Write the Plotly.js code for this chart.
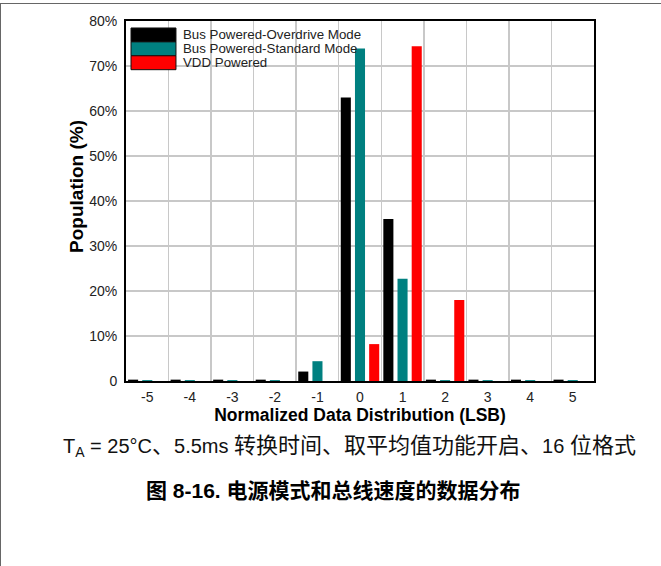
<!DOCTYPE html>
<html>
<head>
<meta charset="utf-8">
<script src="https://cdn.plot.ly/plotly-3.0.1.min.js"></script>
<style>
  html, body { margin: 0; padding: 0; background: #fff; }
  #wrap { position: relative; width: 661px; height: 566px; }
  #chart { width: 661px; height: 566px; }
  #frame {
    position: absolute; left: 0; top: 3px; width: 661px; height: 563px;
    border-top: 1px solid #666; border-left: 1px solid #666;
    box-sizing: border-box; pointer-events: none;
  }
</style>
</head>
<body>
<div id="wrap">
  <div id="chart"></div>
  <div id="frame"></div>
</div>
<script>
// Output code bins (LSB) and population share (%) for each power mode
const codes = [-5, -4, -3, -2, -1, 0, 1, 2, 3, 4, 5];
const overdrive = [0.3, 0.3, 0.3, 0.3, 2.1, 63.0, 36.0, 0.3, 0.3, 0.3, 0.3];
const standard  = [0.2, 0.2, 0.2, 0.2, 4.4, 73.9, 22.7, 0.2, 0.2, 0.2, 0.2];
const vddPowered = [0, 0, 0, 0, 0, 8.2, 74.4, 18.0, 0, 0, 0];

const seriesNames = ['Bus Powered-Overdrive Mode', 'Bus Powered-Standard Mode', 'VDD Powered'];
const seriesColors = ['#000000', '#008080', '#ff0000'];
const seriesValues = [overdrive, standard, vddPowered];

const yTickVals = [0, 10, 20, 30, 40, 50, 60, 70, 80];
const yTickText = ['0', '10%', '20%', '30%', '40%', '50%', '60%', '70%', '80%'];

const xTitle = 'Normalized Data Distribution (LSB)';
const yTitle = 'Population (%)';
const caption = 'T<sub>A</sub> = 25°C<span style="font-size:22px">、</span>5.5ms ' +
  '<span style="font-size:22px">转换时间、取平均值功能开启、</span>16 ' +
  '<span style="font-size:22px">位格式</span>';
const figTitle = '<b>图 8-16. 电源模式和总线速度的数据分布</b>';

const FONT = '"Liberation Sans", Arial, "Noto Sans CJK SC", sans-serif';

const traces = seriesNames.map((name, i) => ({
  type: 'bar',
  name: name,
  x: codes,
  y: seriesValues[i],
  marker: { color: seriesColors[i], line: { width: 0 } },
  showlegend: false,
  hoverinfo: 'x+y+name'
}));

// Boxed legend: wide swatches stacked in the upper-left corner of the plot
const legX0 = 0.0107, legX1 = 0.1068, legTop = 0.9806, legRow = 0.0386;
const shapes = [];
const annotations = [];
seriesNames.forEach((name, i) => {
  const top = legTop - i * legRow;
  shapes.push({
    type: 'rect', xref: 'paper', yref: 'paper',
    x0: legX0, x1: legX1, y0: top - legRow, y1: top,
    fillcolor: seriesColors[i], line: { color: '#111', width: 1 }
  });
  annotations.push({
    xref: 'paper', yref: 'paper', x: legX1 + 0.011, y: top - legRow / 2,
    xanchor: 'left', yanchor: 'middle', showarrow: false,
    text: name, font: { family: FONT, size: 13.3, color: '#222' }
  });
});

// Vertical axis title, set a little above the plot's midline
annotations.push({
  xref: 'paper', yref: 'paper', x: -0.1047, y: 0.539,
  xanchor: 'center', yanchor: 'middle', showarrow: false, textangle: -90,
  text: '<b>' + yTitle + '</b>', font: { family: FONT, size: 19, color: '#000' }
});

annotations.push({
  xref: 'paper', yref: 'paper', x: 0.4765, y: -0.183,
  xanchor: 'center', yanchor: 'middle', showarrow: false,
  text: caption, font: { family: FONT, size: 20, color: '#111' }
});
annotations.push({
  xref: 'paper', yref: 'paper', x: 0.444, y: -0.303,
  xanchor: 'center', yanchor: 'middle', showarrow: false,
  text: figTitle, font: { family: FONT, size: 21, color: '#000' }
});

const layout = {
  width: 661, height: 566,
  margin: { l: 126, r: 67, t: 21, b: 185, pad: 0 },
  paper_bgcolor: '#fff', plot_bgcolor: '#fff',
  barmode: 'group', bargap: 0, bargroupgap: 0.29,
  showlegend: false,
  font: { family: FONT, size: 14, color: '#222' },
  xaxis: {
    range: [-5.5, 5.5], tickmode: 'array',
    tickvals: codes, ticktext: codes.map(String),
    showgrid: false, zeroline: false,
    minor: { tickmode: 'linear', tick0: 0.5, dtick: 1, showgrid: true,
             gridcolor: '#c8c8c8', gridwidth: 1.5, ticks: '' },
    showline: true, mirror: true, linecolor: '#000', linewidth: 2,
    ticks: 'outside', ticklen: 2, tickcolor: 'rgba(0,0,0,0)',
    tickfont: { family: FONT, size: 14, color: '#222' },
    title: { text: '<b>' + xTitle + '</b>', standoff: 1,
             font: { family: FONT, size: 17.5, color: '#000' } }
  },
  yaxis: {
    range: [0, 80], tickmode: 'array', tickvals: yTickVals, ticktext: yTickText,
    showgrid: true, gridcolor: '#c8c8c8', gridwidth: 1.5, zeroline: false,
    showline: true, mirror: true, linecolor: '#000', linewidth: 2,
    ticks: 'outside', ticklen: 4, tickcolor: 'rgba(0,0,0,0)',
    tickfont: { family: FONT, size: 14, color: '#222' }
  },
  shapes: shapes,
  annotations: annotations
};

Plotly.newPlot('chart', traces, layout, { displayModeBar: false, staticPlot: true });
</script>
</body>
</html>
